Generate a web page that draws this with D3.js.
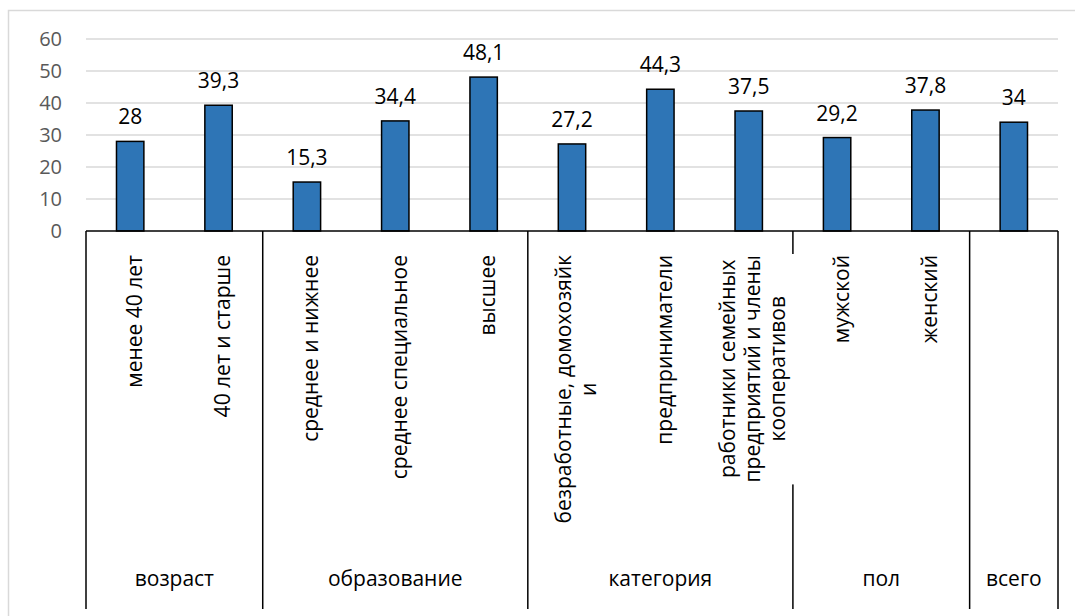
<!DOCTYPE html>
<html>
<head>
<meta charset="utf-8">
<script src="https://cdn.jsdelivr.net/npm/d3@7"></script>
<style>
  html, body { margin: 0; padding: 0; background: #fff; }
  svg { display: block; font-family: "Open Sans", "Noto Sans", sans-serif; }
</style>
</head>
<body>
<svg id="chart" width="1075" height="616"></svg>
<script>
// Category labels, one entry per bar (each entry lists its text lines; the last bar has none)
const categoryLines = [
  ["менее 40 лет"],
  ["40 лет и старше"],
  ["среднее и нижнее"],
  ["среднее специальное"],
  ["высшее"],
  ["безработные, домохозяйк", "и"],
  ["предприниматели"],
  ["работники семейных", "предприятий и члены", "кооперативов"],
  ["мужской"],
  ["женский"],
  []
];
const values = [28, 39.3, 15.3, 34.4, 48.1, 27.2, 44.3, 37.5, 29.2, 37.8, 34];
const groupNames = ["возраст", "образование", "категория", "пол", "всего"];
const groupSizes = [2, 3, 3, 2, 1];
const yTicks = [0, 10, 20, 30, 40, 50, 60];

const categories = categoryLines.map((l, i) => l.length ? l.join(" ") : "cat" + i);
const data = categories.map((c, i) => ({ key: c, lines: categoryLines[i], value: values[i] }));

const svg = d3.select("#chart");
const plotLeft = 86, plotRight = 1058, plotTop = 39, zeroY = 231, axisBottom = 609;

// chart area frame
svg.append("rect")
  .attr("x", 8.5).attr("y", 10.5)
  .attr("width", 1100).attr("height", 700)
  .attr("fill", "none").attr("stroke", "#d9d9d9").attr("stroke-width", 1.5);

const x = d3.scaleBand().domain(categories).range([plotLeft, plotRight]).padding(0);
const y = d3.scaleLinear().domain([0, 60]).range([zeroY, plotTop]);

// horizontal gridlines
svg.append("g")
  .selectAll("line")
  .data(yTicks.filter(t => t > 0))
  .join("line")
  .attr("x1", plotLeft).attr("x2", plotRight)
  .attr("y1", d => y(d)).attr("y2", d => y(d))
  .attr("stroke", "#d9d9d9").attr("stroke-width", 1.5);

// value axis labels
const yAxis = svg.append("g")
  .attr("transform", `translate(${plotLeft - 24},0)`)
  .call(d3.axisLeft(y).tickValues(yTicks).tickSize(0).tickPadding(0));
yAxis.select(".domain").remove();
yAxis.selectAll("text")
  .attr("font-family", "Open Sans")
  .attr("font-size", 20)
  .attr("fill", "#595959")
  .attr("dy", "0.34em");

// bars
const barW = x.bandwidth() * 0.31;
svg.append("g")
  .selectAll("rect")
  .data(data)
  .join("rect")
  .attr("x", d => x(d.key) + x.bandwidth() / 2 - barW / 2)
  .attr("y", d => y(d.value))
  .attr("width", barW)
  .attr("height", d => y(0) - y(d.value))
  .attr("fill", "#2e75b6")
  .attr("stroke", "#000")
  .attr("stroke-width", 1.5);

// value labels
svg.append("g")
  .selectAll("text")
  .data(data)
  .join("text")
  .attr("x", d => x(d.key) + x.bandwidth() / 2)
  .attr("y", d => y(d.value) - 17)
  .attr("text-anchor", "middle")
  .attr("font-size", 21)
  .attr("fill", "#000")
  .text(d => String(d.value).replace(".", ","));

// category axis: baseline and group separators
const axis = svg.append("g");
axis.append("line")
  .attr("x1", plotLeft).attr("x2", plotRight)
  .attr("y1", zeroY).attr("y2", zeroY)
  .attr("stroke", "#000").attr("stroke-width", 1.5);

const groups = [];
let start = 0;
groupNames.forEach((g, i) => {
  const x0 = x(categories[start]);
  const x1 = x(categories[start + groupSizes[i] - 1]) + x.bandwidth();
  groups.push({ name: g, x0, x1 });
  start += groupSizes[i];
});
const bounds = [groups[0].x0].concat(groups.map(g => g.x1));
axis.selectAll("line.sep")
  .data(bounds)
  .join("line")
  .attr("class", "sep")
  .attr("x1", d => d).attr("x2", d => d)
  .attr("y1", zeroY).attr("y2", axisBottom)
  .attr("stroke", "#000").attr("stroke-width", 1.5);

// rotated category labels (lines centred on each other, block starts at the top)
const lineGap = 25;
const labelTop = 255;
const lab = svg.append("g").selectAll("g.cat")
  .data(data.filter(d => d.lines.length))
  .join("g")
  .attr("class", "cat");

lab.each(function (d) {
  const g = d3.select(this);
  const cx = x(d.key) + x.bandwidth() / 2;
  const n = d.lines.length;
  const bg = g.append("rect").attr("fill", "#fff");
  const t = g.append("text")
    .attr("font-size", 21)
    .attr("fill", "#000")
    .attr("text-anchor", "middle");
  d.lines.forEach((line, i) => {
    const base = cx + 11.5 + (i - (n - 1) / 2) * lineGap;
    t.append("tspan").text(line).attr("class", "ln").datum({ base, i });
  });
  // the longest line sets the block length; shorter lines are centred within it
  const lens = t.selectAll("tspan.ln").nodes().map(nd => nd.getComputedTextLength());
  const blockLen = d3.max(lens);
  const mid = labelTop + blockLen / 2;
  t.selectAll("tspan.ln").each(function (p) {
    d3.select(this)
      .attr("x", -mid)
      .attr("y", p.base);
  });
  t.attr("transform", "rotate(-90)");
  if (n > 1) {
    const x0 = cx + 11.5 - (n - 1) / 2 * lineGap - 18;
    const x1 = cx + 11.5 + (n - 1) / 2 * lineGap + 10;
    bg.attr("x", x0).attr("width", x1 - x0)
      .attr("y", labelTop - 1).attr("height", blockLen + 3);
  } else {
    bg.remove();
  }
});

// group labels
svg.append("g")
  .selectAll("text")
  .data(groups)
  .join("text")
  .attr("x", d => (d.x0 + d.x1) / 2)
  .attr("y", 586)
  .attr("text-anchor", "middle")
  .attr("font-size", 21)
  .attr("fill", "#000")
  .text(d => d.name);
</script>
</body>
</html>
